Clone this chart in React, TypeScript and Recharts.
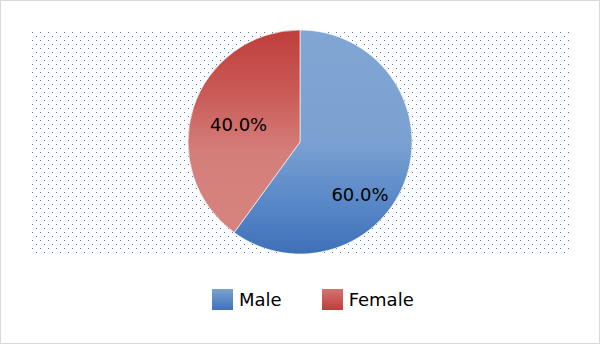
import { Cell, Legend, Pie, PieChart } from 'recharts'

const categories = ['Male', 'Female']
const shares = [60, 40]
const labels = ['60.0%', '40.0%']

const data = categories.map((name, i) => ({ name, value: shares[i], label: labels[i] }))

const sliceFills = ['url(#maleFill)', 'url(#femaleFill)']
const keyFills = ['url(#maleKey)', 'url(#femaleKey)']
// best-fit label spot: angle shift from mid angle (deg), radius as share of outer radius
const labelPlace = [
  { shift: -23, r: 0.71 },
  { shift: 2, r: 0.57 },
]

const FONT = "'DejaVu Sans', sans-serif"
const RAD = Math.PI / 180

function renderLabel(props: any) {
  const { cx, cy, midAngle, outerRadius, index } = props
  const p = labelPlace[index] ?? { shift: 0, r: 0.6 }
  const a = (midAngle + p.shift) * RAD
  const x = cx + outerRadius * p.r * Math.cos(a)
  const y = cy - outerRadius * p.r * Math.sin(a)
  return (
    <text x={x} y={y + 6.6} textAnchor='middle' fontSize={18} fontFamily={FONT} fill='#000'>
      {data[index]?.label}
    </text>
  )
}

function LegendKeys({ payload }: any) {
  // keep the series order, not the alphabetical one
  const items = [...(payload ?? [])].sort(
    (a: any, b: any) => categories.indexOf(a.value) - categories.indexOf(b.value)
  )
  return (
    <div style={{ display: 'flex', alignItems: 'center', fontFamily: FONT, fontSize: 18, color: '#000' }}>
      {items.map((item: any, i: number) => (
        <div key={item.value} style={{ display: 'flex', alignItems: 'center', marginRight: i === 0 ? 40 : 0 }}>
          <svg width={21} height={21} style={{ display: 'block' }}>
            <rect width={21} height={21} fill={keyFills[categories.indexOf(item.value)]} />
          </svg>
          <span style={{ marginLeft: 6 }}>{item.value}</span>
        </div>
      ))}
    </div>
  )
}

export default function App() {
  return (
    <div style={{ position: 'absolute', left: 0, top: 0, width: 600, height: 344, background: '#fff' }}>
      <svg width={600} height={344} style={{ position: 'absolute', left: 0, top: 0 }}>
        <defs>
          <pattern id='dots' x={32} y={32} width={8} height={8} patternUnits='userSpaceOnUse'>
            <rect x={0} y={0} width={1} height={1} fill='#3b7dd8' />
            <rect x={4} y={4} width={1} height={1} fill='#3b7dd8' />
          </pattern>
        </defs>
        <rect x={0.5} y={0.5} width={599} height={343} fill='#fff' stroke='#d9d9d9' />
        <rect x={32} y={32} width={538} height={222} fill='url(#dots)' />
      </svg>
      <div style={{ position: 'absolute', left: 0, top: 0 }}>
        <PieChart width={600} height={344} margin={{ top: 0, right: 0, bottom: 0, left: 0 }}>
          <defs>
            <linearGradient id='maleFill' x1='0' y1='0' x2='0' y2='1'>
              <stop offset='0' stopColor='#80a6d4' />
              <stop offset='0.5' stopColor='#7aa1d1' />
              <stop offset='0.75' stopColor='#5b8ac9' />
              <stop offset='1' stopColor='#3e70b9' />
            </linearGradient>
            <linearGradient id='femaleFill' x1='0' y1='0' x2='0' y2='1'>
              <stop offset='0' stopColor='#bf3e3b' />
              <stop offset='0.3' stopColor='#c95955' />
              <stop offset='0.6' stopColor='#d47e7a' />
              <stop offset='1' stopColor='#d6847f' />
            </linearGradient>
            <linearGradient id='maleKey' x1='0' y1='0' x2='0' y2='1'>
              <stop offset='0' stopColor='#7aa2d2' />
              <stop offset='1' stopColor='#3f72ba' />
            </linearGradient>
            <linearGradient id='femaleKey' x1='0' y1='0' x2='0' y2='1'>
              <stop offset='0' stopColor='#d27470' />
              <stop offset='1' stopColor='#be3e3b' />
            </linearGradient>
          </defs>
          <Pie
            data={data}
            dataKey='value'
            nameKey='name'
            cx={300}
            cy={142}
            outerRadius={112}
            startAngle={90}
            endAngle={-270}
            stroke='#ffffff'
            strokeWidth={0.6}
            labelLine={false}
            label={renderLabel}
            isAnimationActive={false}
          >
            {data.map((d, i) => (
              <Cell key={d.name} fill={sliceFills[i]} />
            ))}
          </Pie>
          <Legend content={<LegendKeys />} wrapperStyle={{ left: 212, top: 289, width: 'auto' }} />
        </PieChart>
      </div>
    </div>
  )
}
